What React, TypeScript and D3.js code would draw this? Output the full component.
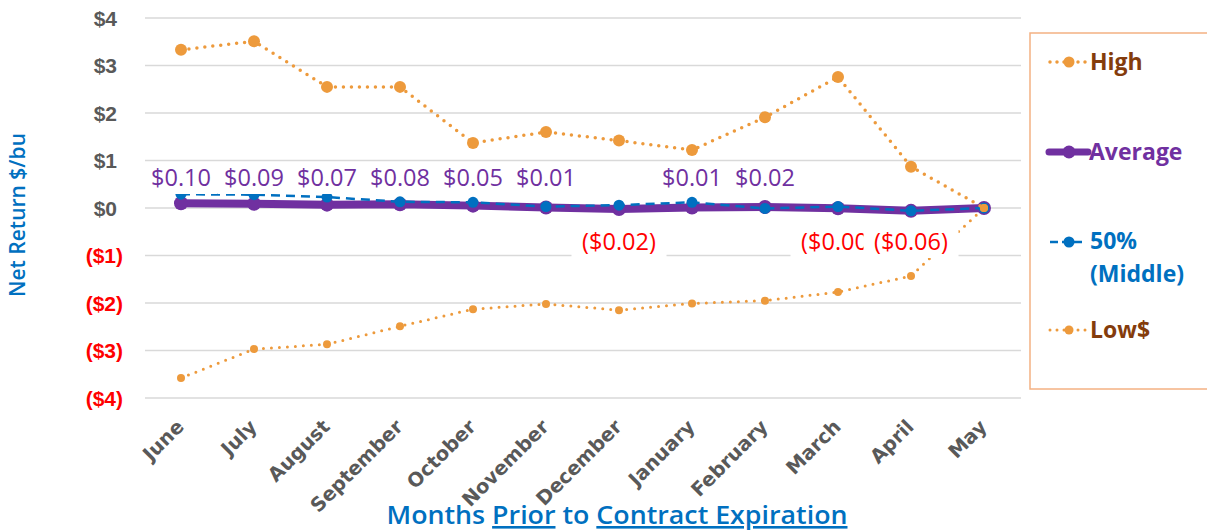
import React from "react";
import * as d3 from "d3";

const months = ["June", "July", "August", "September", "October", "November", "December", "January", "February", "March", "April", "May"];
const high = [3.33, 3.51, 2.55, 2.55, 1.37, 1.6, 1.42, 1.22, 1.91, 2.76, 0.87, 0];
const average = [0.1, 0.09, 0.07, 0.08, 0.05, 0.01, -0.02, 0.01, 0.02, -0.004, -0.06, 0];
const middle = [0.29, 0.28, 0.23, 0.13, 0.12, 0.03, 0.06, 0.12, -0.01, 0.03, -0.06, 0];
const low = [-3.58, -2.97, -2.87, -2.49, -2.13, -2.02, -2.15, -2.01, -1.95, -1.77, -1.43, 0];
const yTicks = [4, 3, 2, 1, 0, -1, -2, -3, -4];

const W = 1207;
const H = 531;
const ORANGE = "#ED9A3C";
const PURPLE = "#7030A0";
const BLUE = "#0070C0";
const BROWN = "#843C0C";

const fmtLabel = (v: number) => {
  const s = "$" + Math.abs(v).toFixed(2);
  return v < 0 ? "(" + s + ")" : s;
};
const fmtTick = (v: number) => (v < 0 ? `($${-v})` : `$${v}`);

export default function App() {
  const x = d3.scalePoint<string>().domain(months).range([181, 984]);
  const y = d3.scaleLinear().domain([-4, 4]).range([398, 18]);
  const line = (vals: number[]) =>
    d3.line<number>().x((_, i) => x(months[i]) as number).y((d) => y(d))(vals) as string;

  return (
    <svg width={W} height={H} style={{ position: "absolute", left: 0, top: 0, background: "#fff" }}>
      {/* gridlines */}
      {yTicks.map((t) => (
        <line key={t} x1={145} x2={1021} y1={y(t)} y2={y(t)} stroke="#d9d9d9" strokeWidth={1.3} />
      ))}
      {/* y tick labels */}
      {yTicks.map((t) => (
        <text
          key={"t" + t}
          x={t < 0 ? 123 : 117}
          y={y(t) + 7.5}
          textAnchor="end"
          fontFamily="'Liberation Sans', Arial, sans-serif"
          fontWeight="bold"
          fontSize={21}
          fill={t < 0 ? "#FF0000" : "#595959"}
        >
          {fmtTick(t)}
        </text>
      ))}
      <text
        transform="translate(25,215) rotate(-90)"
        textAnchor="middle"
        fontFamily="'Open Sans', sans-serif"
        fontWeight={600}
        fontSize={21}
        fill={BLUE}
      >
        Net Return $/bu
      </text>

      {/* month labels */}
      {months.map((m) => (
        <text
          key={m}
          transform={`translate(${(x(m) as number) + 4},${428}) rotate(-45)`}
          textAnchor="end"
          fontFamily="'DejaVu Sans', sans-serif"
          fontWeight="bold"
          fontSize={19.5}
          fill="#595959"
        >
          {m}
        </text>
      ))}

      {/* average */}
      <path d={line(average)} fill="none" stroke={PURPLE} strokeWidth={8} strokeLinejoin="round" />
      {average.map((v, i) => (
        <circle key={"a" + i} cx={x(months[i])} cy={y(v)} r={7} fill={PURPLE} />
      ))}
      {/* 50% middle */}
      <path d={line(middle)} fill="none" stroke={BLUE} strokeWidth={2.5} strokeDasharray="9 6" />
      {middle.map((v, i) => (
        <circle key={"m" + i} cx={x(months[i])} cy={y(v)} r={5.5} fill={BLUE} />
      ))}
      {/* high / low */}
      <path d={line(high)} fill="none" stroke={ORANGE} strokeWidth={3.5} strokeDasharray="0 8" strokeLinecap="round" />
      {high.map((v, i) => (
        <circle key={"h" + i} cx={x(months[i])} cy={y(v)} r={i === 11 ? 4 : 6} fill={ORANGE} />
      ))}
      <path d={line(low)} fill="none" stroke={ORANGE} strokeWidth={3} strokeDasharray="0 8" strokeLinecap="round" />
      {low.map((v, i) => (
        <circle key={"l" + i} cx={x(months[i])} cy={y(v)} r={4} fill={ORANGE} />
      ))}

      {/* data labels for average */}
      {average.slice(0, 11).map((v, i) => {
        const cx = x(months[i]) as number;
        const neg = v < 0;
        const label = neg && v > -0.005 ? "($0.00)" : fmtLabel(v);
        const bw = label.length * 11 + 18;
        const cy = neg ? 242 : 178;
        return (
          <g key={"lab" + i}>
            <rect x={cx - bw / 2} y={cy - 16} width={bw} height={32} fill="#fff" />
            <text
              x={cx}
              y={cy + 8}
              textAnchor="middle"
              fontFamily="'Open Sans', sans-serif"
              fontSize={23.5}
              fill={neg ? "#FF0000" : PURPLE}
            >
              {label}
            </text>
          </g>
        );
      })}

      {/* legend */}
      <rect x={1030} y={33} width={200} height={356} fill="#fff" stroke="#F4B183" strokeWidth={1.5} />
      <g fontFamily="'Open Sans', sans-serif" fontWeight="bold" fontSize={23}>
        <line x1={1050} x2={1086} y1={62} y2={62} stroke={ORANGE} strokeWidth={3.5} strokeDasharray="0 7" strokeLinecap="round" />
        <circle cx={1069} cy={62} r={5.5} fill={ORANGE} />
        <text x={1090} y={70} fill={BROWN}>High</text>

        <line x1={1049} x2={1088} y1={152} y2={152} stroke={PURPLE} strokeWidth={7} strokeLinecap="round" />
        <circle cx={1069} cy={152} r={6.5} fill={PURPLE} />
        <text x={1089} y={160} fill={PURPLE}>Average</text>

        <line x1={1050} x2={1083} y1={242} y2={242} stroke={BLUE} strokeWidth={2.5} strokeDasharray="8 4" />
        <circle cx={1069} cy={242} r={5.5} fill={BLUE} />
        <text x={1090} y={249} fill={BLUE}>50%</text>
        <text x={1090} y={282} fill={BLUE}>(Middle)</text>

        <line x1={1050} x2={1086} y1={330} y2={330} stroke={ORANGE} strokeWidth={3} strokeDasharray="0 7" strokeLinecap="round" />
        <circle cx={1069} cy={330} r={4.5} fill={ORANGE} />
        <text x={1090} y={338} fill={BROWN}>Low$</text>
      </g>

      {/* x axis title */}
      <text
        x={617}
        y={524}
        textAnchor="middle"
        fontFamily="'Open Sans', sans-serif"
        fontWeight={600}
        fontSize={26}
        fill={BLUE}
        textLength={461}
        lengthAdjust="spacingAndGlyphs"
      >
        Months <tspan textDecoration="underline">Prior</tspan> to{" "}
        <tspan textDecoration="underline">Contract Expiration</tspan>
      </text>
    </svg>
  );
}
